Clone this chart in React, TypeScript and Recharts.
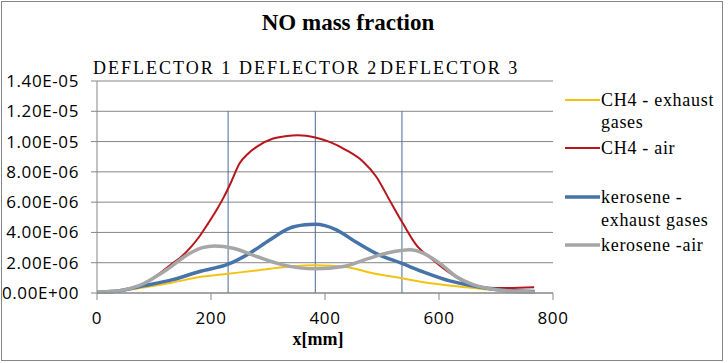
import { CartesianGrid, Line, LineChart, ReferenceLine, XAxis, YAxis } from 'recharts';

// values in units of 1E-06
const ch4Exhaust = [
  { x: 0, y: 0.05 }, { x: 40, y: 0.12 }, { x: 75, y: 0.33 }, { x: 133, y: 0.7 },
  { x: 180, y: 1.05 }, { x: 230, y: 1.27 }, { x: 280, y: 1.49 }, { x: 338, y: 1.75 },
  { x: 383, y: 1.84 }, { x: 437, y: 1.72 }, { x: 484, y: 1.3 }, { x: 535, y: 0.97 },
  { x: 589, y: 0.63 }, { x: 642, y: 0.4 }, { x: 689, y: 0.22 }, { x: 768, y: 0.05 },
];

const ch4Air = [
  { x: 0, y: 0.05 }, { x: 40, y: 0.15 }, { x: 75, y: 0.45 }, { x: 110, y: 1.3 },
  { x: 133, y: 1.97 }, { x: 145, y: 2.3 }, { x: 165, y: 3.05 }, { x: 180, y: 3.75 },
  { x: 195, y: 4.6 }, { x: 210, y: 5.5 }, { x: 222, y: 6.3 }, { x: 235, y: 7.3 },
  { x: 250, y: 8.55 }, { x: 265, y: 9.2 }, { x: 280, y: 9.65 }, { x: 309, y: 10.2 },
  { x: 330, y: 10.35 }, { x: 353, y: 10.42 }, { x: 383, y: 10.27 }, { x: 408, y: 9.98 },
  { x: 437, y: 9.44 }, { x: 467, y: 8.67 }, { x: 490, y: 7.68 }, { x: 513, y: 6.15 },
  { x: 535, y: 4.7 }, { x: 560, y: 3.18 }, { x: 589, y: 2.2 }, { x: 619, y: 1.32 },
  { x: 648, y: 0.66 }, { x: 683, y: 0.35 }, { x: 720, y: 0.33 }, { x: 767, y: 0.38 },
];

const keroExhaust = [
  { x: 0, y: 0.05 }, { x: 40, y: 0.15 }, { x: 75, y: 0.43 }, { x: 133, y: 0.88 },
  { x: 180, y: 1.42 }, { x: 230, y: 1.9 }, { x: 268, y: 2.63 }, { x: 303, y: 3.5 },
  { x: 338, y: 4.28 }, { x: 365, y: 4.5 }, { x: 383, y: 4.54 }, { x: 400, y: 4.45 },
  { x: 420, y: 4.17 }, { x: 455, y: 3.35 }, { x: 490, y: 2.6 }, { x: 535, y: 1.95 },
  { x: 572, y: 1.4 }, { x: 619, y: 0.8 }, { x: 666, y: 0.43 }, { x: 718, y: 0.17 },
  { x: 768, y: 0.1 },
];

const keroAir = [
  { x: 0, y: 0.05 }, { x: 40, y: 0.15 }, { x: 75, y: 0.5 }, { x: 122, y: 1.53 },
  { x: 163, y: 2.63 }, { x: 185, y: 3.0 }, { x: 206, y: 3.11 }, { x: 239, y: 2.96 },
  { x: 280, y: 2.41 }, { x: 326, y: 1.86 }, { x: 383, y: 1.6 }, { x: 432, y: 1.75 },
  { x: 473, y: 2.24 }, { x: 513, y: 2.67 }, { x: 549, y: 2.85 }, { x: 572, y: 2.63 },
  { x: 601, y: 1.97 }, { x: 630, y: 1.09 }, { x: 660, y: 0.55 }, { x: 700, y: 0.22 },
  { x: 768, y: 0.05 },
];

const deflectors = [230, 383, 535];
const deflectorLabels = ['DEFLECTOR 1', 'DEFLECTOR 2', 'DEFLECTOR 3'];
const xTicks = [0, 200, 400, 600, 800];
const yTicks = [0, 2, 4, 6, 8, 10, 12, 14];

const series = [
  { key: 'ch4Exhaust', data: ch4Exhaust, color: '#F2C314', width: 2, label: ['CH4 - exhaust', 'gases'] },
  { key: 'ch4Air', data: ch4Air, color: '#B8161C', width: 2, label: ['CH4 - air'] },
  { key: 'keroExhaust', data: keroExhaust, color: '#4673A8', width: 3.5, label: ['kerosene -', 'exhaust gases'] },
  { key: 'keroAir', data: keroAir, color: '#A6A6A6', width: 3.5, label: ['kerosene -air'] },
];

const fmt = (v: number) => {
  const [m, e] = (v * 1e-6).toExponential(2).split('e');
  const sign = e[0] === '-' ? '-' : '+';
  const exp = e.replace(/[+-]/, '').padStart(2, '0');
  return `${m}E${sign}${exp}`;
};

const axisTick = { fill: '#000', fontSize: 17, fontFamily: "'Open Sans', sans-serif", letterSpacing: 0.6 };
const serif = "'Liberation Serif', 'Times New Roman', serif";

// legend rows: line y / text baselines
const legendRows = [
  { lineY: 100, base: [106, 128] },
  { lineY: 148, base: [154] },
  { lineY: 197, base: [203, 226] },
  { lineY: 245, base: [251] },
];

export default function App() {
  return (
    <div style={{ position: 'absolute', left: 0, top: 0, width: 728, height: 363, background: '#fff' }}>
      <LineChart width={728} height={363} margin={{ top: 81, right: 175, bottom: 20, left: 0 }}>
        <CartesianGrid vertical={false} stroke="#868686" />
        <XAxis
          type="number"
          dataKey="x"
          domain={[0, 800]}
          ticks={xTicks}
          height={50}
          stroke="#868686"
          tickSize={7}
          tickMargin={12}
          tick={axisTick}
        />
        <YAxis
          type="number"
          domain={[0, 14]}
          ticks={yTicks}
          width={97}
          stroke="#868686"
          tickSize={6}
          tickMargin={12}
          tickFormatter={fmt}
          tick={axisTick}
        />
        {deflectors.map((d) => (
          <ReferenceLine key={d} segment={[{ x: d, y: 0 }, { x: d, y: 12 }]} stroke="#4A6A94" strokeWidth={1} />
        ))}
        {series.map((s) => (
          <Line
            key={s.key}
            data={s.data}
            dataKey="y"
            type="monotone"
            stroke={s.color}
            strokeWidth={s.width}
            dot={false}
            isAnimationActive={false}
          />
        ))}
      </LineChart>
      <svg width={728} height={363} style={{ position: 'absolute', left: 0, top: 0, pointerEvents: 'none' }}>
        <rect x={1.5} y={1.5} width={721} height={359} fill="none" stroke="#868686" />
        <text x={348} y={30} textAnchor="middle" fontFamily={serif} fontWeight="bold" fontSize={23}>
          NO mass fraction
        </text>
        {deflectorLabels.map((t, i) => (
          <text key={t} x={[93, 239, 380][i]} y={74} fontFamily={serif} fontSize={18} letterSpacing={2}>
            {t}
          </text>
        ))}
        <text x={318} y={345} textAnchor="middle" fontFamily={serif} fontWeight="bold" fontSize={18}>
          x[mm]
        </text>
        {series.map((s, i) => (
          <g key={s.key}>
            <line x1={565} x2={600} y1={legendRows[i].lineY} y2={legendRows[i].lineY} stroke={s.color} strokeWidth={s.width} />
            {s.label.map((l, j) => (
              <text key={l} x={601} y={legendRows[i].base[j]} fontFamily={serif} fontSize={18} letterSpacing={0.7}>
                {l}
              </text>
            ))}
          </g>
        ))}
      </svg>
    </div>
  );
}
